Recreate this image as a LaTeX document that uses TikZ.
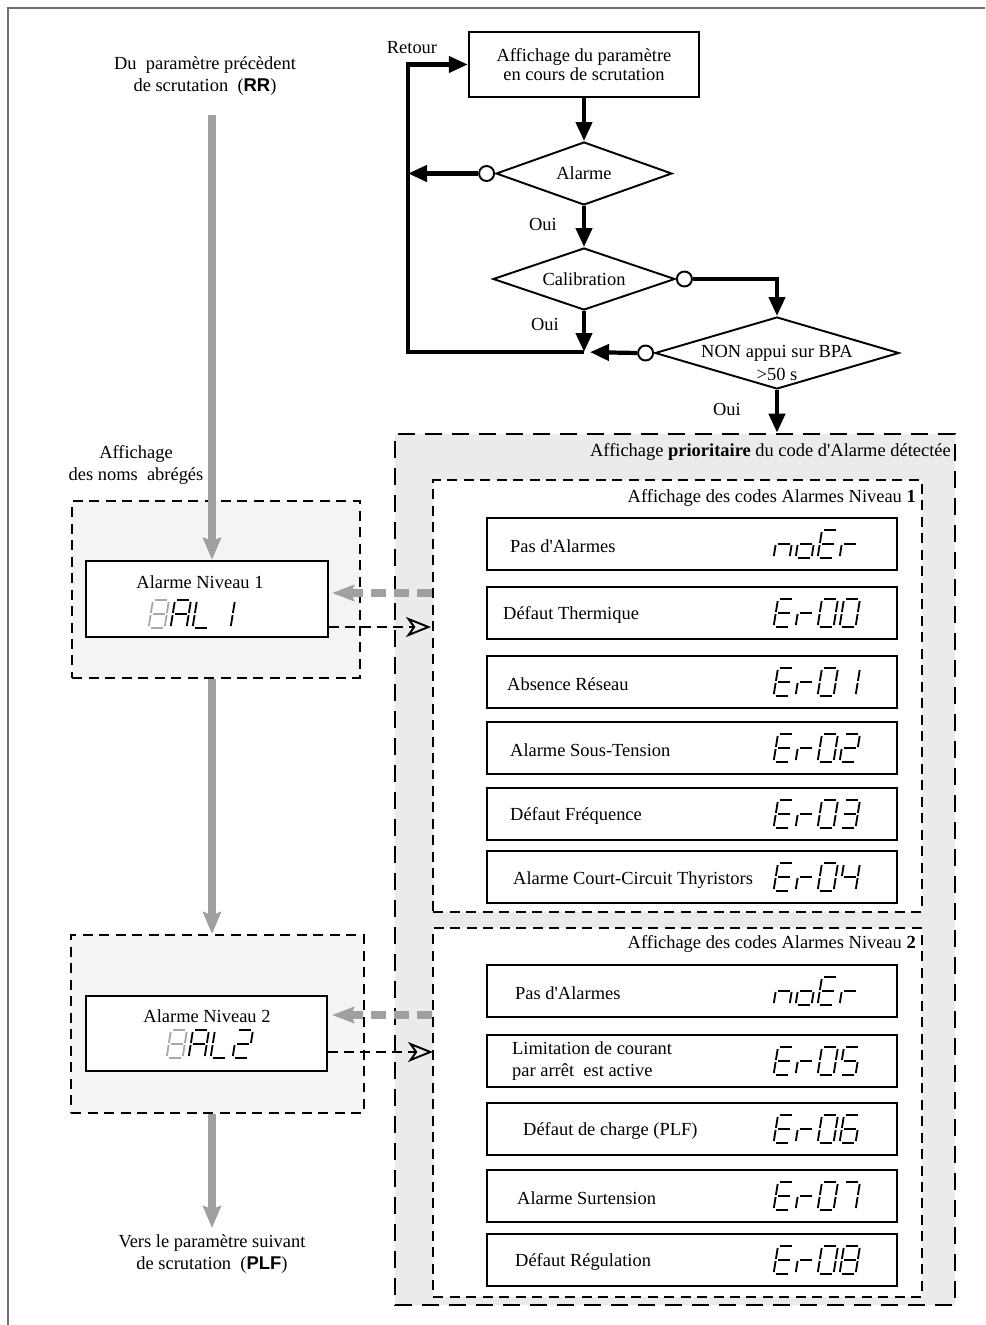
\documentclass[tikz,border=0pt]{standalone}
\usepackage{fontspec}
\setmainfont{Liberation Serif}[Ligatures=TeXOff]
\newfontfamily\hsans{Liberation Sans}
\usetikzlibrary{arrows.meta,positioning,calc,shapes.geometric}
\definecolor{dimGrey}{HTML}{A0A0A0}
\definecolor{zoneFill}{HTML}{EBEBEB}
\definecolor{nameFill}{HTML}{F4F4F4}
\definecolor{edgeGrey}{HTML}{707070}
\definecolor{segOff}{HTML}{A8A8A8}
\newcommand{\acr}[1]{{\hsans\bfseries #1}}

% seven segment read-out: segment end points (px) and characters
\newcommand{\defpts}[2]{\expandafter\def\csname ssc#1\endcsname{#2}}
\newcommand{\defchr}[2]{\expandafter\def\csname ssg#1\endcsname{#2}}
\defpts{a}{2/0/14/0}
\defpts{b}{16/2/16/13}
\defpts{c}{16/15/16/26}
\defpts{d}{2/28/14/28}
\defpts{e}{0/15/0/26}
\defpts{f}{0/2/0/13}
\defpts{g}{2/14/14/14}
\defchr{E}{a,d,e,f,g}
\defchr{r}{e,g}
\defchr{n}{c,e,g}
\defchr{o}{c,d,e,g}
\defchr{A}{a,b,c,e,f,g}
\defchr{L}{d,e,f}
\defchr{0}{a,b,c,d,e,f}
\defchr{1}{b,c}
\defchr{2}{a,b,d,e,g}
\defchr{3}{a,b,c,d,g}
\defchr{4}{b,c,f,g}
\defchr{5}{a,c,d,f,g}
\defchr{6}{a,c,d,e,f,g}
\defchr{7}{a,b,c}
\defchr{8}{a,b,c,d,e,f,g}
\newcommand{\sevseg}[3][black]{%
  \begin{scope}[shift={#2},xslant=0.16,color=#1]
    \foreach \ch [count=\k from 0] in {#3} {
      \edef\seglist{\csname ssg\ch\endcsname}
      \foreach \s in \seglist {
        \edef\segpts{\csname ssc\s\endcsname}
        \foreach \xa/\ya/\xb/\yb in \segpts
          \draw[line width=1.05pt] (\k*22+\xa,\ya) -- (\k*22+\xb,\yb);
      }
    }
  \end{scope}}

\begin{document}
\begin{tikzpicture}[x=0.02cm,y=-0.02cm,
    font=\fontsize{10.5pt}{13pt}\selectfont,
    panel/.style={draw,line width=1.4pt,fill=white,inner sep=0pt},
    codebox/.style={draw,line width=1.3pt,fill=white,
                    minimum width=8.2cm,minimum height=1.04cm},
    decide/.style={diamond,draw,line width=1.1pt,fill=white,inner sep=0pt},
    knob/.style={circle,draw,line width=1.1pt,fill=white,minimum size=0.3cm,inner sep=0pt},
    flow/.style={line width=2.4pt,-{Triangle[length=0.38cm,width=0.32cm]}},
    zone/.style={draw,fill=zoneFill,line width=1.6pt,dash pattern=on 0.34cm off 0.2cm},
    grp/.style={draw,line width=1.1pt,dash pattern=on 0.2cm off 0.13cm},
    scan/.style={dimGrey,line width=4pt,-{Stealth[length=0.44cm,width=0.36cm,inset=0.06cm]}},
    retro/.style={dimGrey,line width=4pt,dash pattern=on 0.3cm off 0.16cm,
                  -{Stealth[length=0.44cm,width=0.32cm,inset=0.06cm]}},
    fwd/.style={line width=1.1pt,dash pattern=on 0.2cm off 0.12cm,
                -{Stealth[open,length=0.5cm,width=0.4cm,inset=0.14cm]}}]

  \useasboundingbox (0,0) rectangle (985,1325);
  \draw[edgeGrey,line width=0.8pt] (8,1325) -- (8,8) -- (985,8);

  % scanning loop
  \node[panel,minimum width=4.6cm,minimum height=1.3cm,align=center] (aff) at (584,64.5)
       {Affichage du paramètre\\[-2pt] en cours de scrutation};
  \node[decide,minimum width=3.52cm,minimum height=1.26cm,label=center:Alarme] (al) at (584,173.5) {};
  \node[decide,minimum width=3.64cm,minimum height=1.24cm,label=center:Calibration] (ca) at (584,279) {};
  \node[decide,minimum width=4.88cm,minimum height=1.44cm,
        label={[align=center,yshift=-0.2cm]center:NON appui sur BPA\\>50 s}] (nb) at (777,353) {};
  \node[knob,anchor=east] (ka) at (al.west) {};
  \node[knob,anchor=west] (kc) at (ca.east) {};
  \node[knob,anchor=east] (kn) at (nb.west) {};
  \coordinate (j) at (584,352);
  \coordinate (rt) at (408,352);
  \node (ret) at (412,48) {Retour};
  \node (oui1) at (543,224) {Oui};
  \node (oui2) at (545,324) {Oui};
  \node (oui3) at (727,409) {Oui};

  % alarm codes zone
  \node[zone,minimum width=11.2cm,minimum height=17.42cm] (zone) at (675,869.5) {};
  \node[grp,fill=white,minimum width=9.78cm,minimum height=8.64cm] (lv1) at (677.5,696) {};
  \node[grp,fill=white,minimum width=9.78cm,minimum height=7.38cm] (lv2) at (677.5,1112.5) {};
  \node[anchor=east] (tz) at (957,452) {Affichage \textbf{prioritaire} du code d'Alarme détectée};
  \node[anchor=east] (t1) at (922,498) {Affichage des codes Alarmes Niveau \textbf{1}};
  \node[anchor=east] (t2) at (922,944) {Affichage des codes Alarmes Niveau \textbf{2}};

  \node[codebox] (r1) at (692,544) {};
  \node[anchor=west] (p1) at (504,546) {Pas d'Alarmes};
  \sevseg{(778,530)}{n,o,E,r}
  \node[codebox] (r2) at (692,613) {};
  \node[anchor=west] (p2) at (497,615) {Défaut Thermique};
  \sevseg{(778,599)}{E,r,0,0}
  \node[codebox] (r3) at (692,682) {};
  \node[anchor=west] (p3) at (501,684) {Absence Réseau};
  \sevseg{(778,668)}{E,r,0,1}
  \node[codebox] (r4) at (692,748) {};
  \node[anchor=west] (p4) at (504,750) {Alarme Sous-Tension};
  \sevseg{(778,734)}{E,r,0,2}
  \node[codebox] (r5) at (692,814) {};
  \node[anchor=west] (p5) at (504,816) {Défaut Fréquence};
  \sevseg{(778,800)}{E,r,0,3}
  \node[codebox] (r6) at (692,877) {};
  \node[anchor=west] (p6) at (507,880) {Alarme Court-Circuit Thyristors};
  \sevseg{(778,863)}{E,r,0,4}

  \node[codebox] (r7) at (692,991) {};
  \node[anchor=west] (p7) at (509,993) {Pas d'Alarmes};
  \sevseg{(778,977)}{n,o,E,r}
  \node[codebox] (r8) at (692,1061) {};
  \node[anchor=west,align=left] (p8) at (506,1061) {Limitation de courant\\par arrêt~ est active};
  \sevseg{(778,1047)}{E,r,0,5}
  \node[codebox] (r9) at (692,1129) {};
  \node[anchor=west] (p9) at (517,1131) {Défaut de charge (PLF)};
  \sevseg{(778,1115)}{E,r,0,6}
  \node[codebox] (r10) at (692,1196) {};
  \node[anchor=west] (p10) at (511,1198) {Alarme Surtension};
  \sevseg{(778,1182)}{E,r,0,7}
  \node[codebox] (r11) at (692,1260) {};
  \node[anchor=west] (p11) at (509,1262) {Défaut Régulation};
  \sevseg{(778,1246)}{E,r,0,8}

  % short names column
  \node[align=center] (src) at (205,76) {Du~ paramètre précèdent\\de scrutation~ (\acr{RR})};
  \node[align=center] (lbl) at (136,465) {Affichage\\des noms~ abrégés};
  \node[grp,fill=nameFill,minimum width=5.76cm,minimum height=3.54cm] (g1) at (216,589.5) {};
  \node[panel,minimum width=4.84cm,minimum height=1.52cm] (n1) at (207,599) {};
  \node (n1t) at (200,582) {Alarme Niveau 1};
  \sevseg[segOff]{(153,600)}{8}
  \sevseg{(175,600)}{A,L,1}
  \node[grp,fill=nameFill,minimum width=5.86cm,minimum height=3.56cm] (g2) at (217.5,1024) {};
  \node[panel,minimum width=4.82cm,minimum height=1.5cm] (n2) at (206.5,1033.5) {};
  \node (n2t) at (207,1016) {Alarme Niveau 2};
  \sevseg[segOff]{(171,1030)}{8}
  \sevseg{(193,1030)}{A,L,2}
  \node[align=center] (dst) at (212,1254) {Vers le paramètre suivant\\de scrutation~ (\acr{PLF})};

  % connectors
  \draw[flow] (aff.south) -- (al.north);
  \draw[flow] (al.south) -- (ca.north);
  \draw[flow] (ca.south) -- (j);
  \draw[flow] (kc.east) -| (nb.north);
  \draw[flow,shorten >=0.12cm] (kn.west) -- (j);
  \draw[flow] (j) -- (rt) |- (aff.west);
  \draw[flow] (ka.west) -- (ka -| rt);
  \draw[flow] (nb.south) -- (nb.south |- zone.north);

  \coordinate (s0) at (212,115);
  \draw[scan] (s0) -- (s0 |- n1.north);
  \draw[scan] (g1.south -| s0) -- (g2.north -| s0);
  \draw[scan] (g2.south -| s0) -- (s0 |- dst.north);

  \coordinate (k1) at (332,593);
  \coordinate (f1) at (431,627);
  \coordinate (k2) at (332,1015);
  \coordinate (f2) at (433,1052);
  \draw[retro] (k1 -| lv1.west) -- (k1);
  \draw[fwd] (n1.east |- f1) -- (f1);
  \draw[retro] (k2 -| lv2.west) -- (k2);
  \draw[fwd] (n2.east |- f2) -- (f2);
\end{tikzpicture}
\end{document}
